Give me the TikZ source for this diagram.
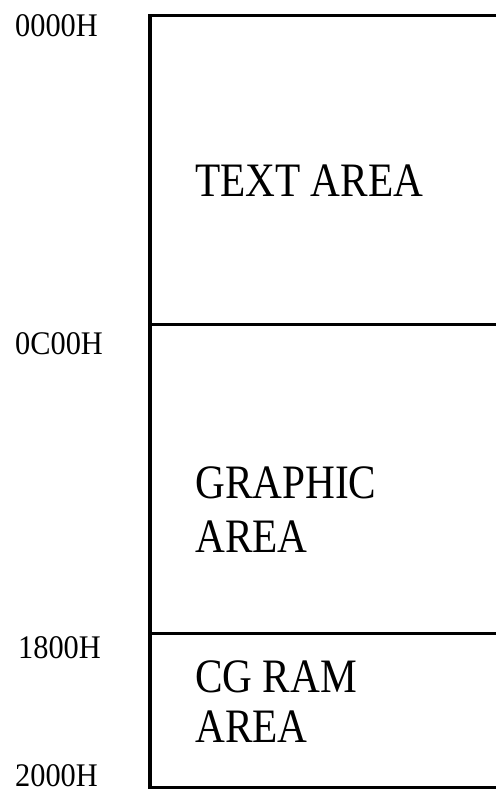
\documentclass[tikz,border=0pt]{standalone}
\usepackage{fontspec}
\setmainfont{Liberation Serif}
\newfontfamily\addrfont[FakeStretch=0.92]{Liberation Serif}
\newfontfamily\areafont[FakeStretch=0.86]{Liberation Serif}
\usepackage{tikz}

\begin{document}
\begin{tikzpicture}[x=1pt,y=-1pt,
    addr/.style={anchor=base west,inner sep=0pt,font=\addrfont\fontsize{33}{36}\selectfont},
    area/.style={anchor=base west,inner sep=0pt,align=left,font=\areafont\fontsize{48}{54}\selectfont}]
    \useasboundingbox (0,0) rectangle (496,794);

    % memory map frame, open on the right
    \draw[line width=3.2pt] (496,15.5) -- (150,15.5) -- (150,787.5) -- (496,787.5);
    \draw[line width=3.2pt] (150,324.5) -- (496,324.5);
    \draw[line width=3.2pt] (150,633.5) -- (496,633.5);

    \node[addr] (a0000) at (15,37) {0000H};
    \node[addr] (a0c00) at (15,354) {0C00H};
    \node[addr] (a1800) at (18,658) {1800H};
    \node[addr] (a2000) at (15,786.5) {2000H};

    \node[area] (text) at (195,197) {TEXT AREA};
    \node[area] (graphic) at (195,552) {GRAPHIC\\AREA};
    \node[area,font=\areafont\fontsize{48}{50}\selectfont] (cgram) at (195,742) {CG RAM\\AREA};
  \end{tikzpicture}
\end{document}
